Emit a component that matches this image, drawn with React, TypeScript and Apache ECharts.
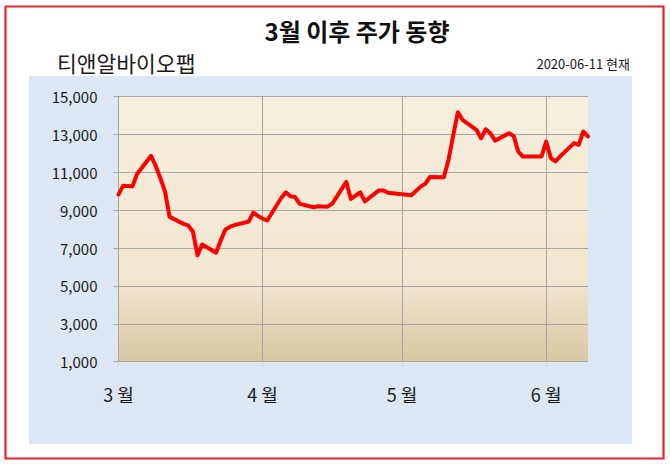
import * as React from "react";
import * as echarts from "echarts";

// trading days, 2020-03-02 .. 2020-06-11 (KOSDAQ, 티앤알바이오팹)
const tradeDates = [
  "2020-03-02", "2020-03-03", "2020-03-04", "2020-03-05", "2020-03-06",
  "2020-03-09", "2020-03-10", "2020-03-11", "2020-03-12", "2020-03-13",
  "2020-03-16", "2020-03-17", "2020-03-18", "2020-03-19", "2020-03-20",
  "2020-03-23", "2020-03-24", "2020-03-25", "2020-03-26", "2020-03-27",
  "2020-03-30", "2020-03-31", "2020-04-01", "2020-04-02", "2020-04-03",
  "2020-04-06", "2020-04-07", "2020-04-08", "2020-04-09", "2020-04-10",
  "2020-04-13", "2020-04-14", "2020-04-16", "2020-04-17",
  "2020-04-20", "2020-04-21", "2020-04-22", "2020-04-23", "2020-04-24",
  "2020-04-27", "2020-04-28", "2020-04-29",
  "2020-05-04", "2020-05-06", "2020-05-07", "2020-05-08",
  "2020-05-11", "2020-05-12", "2020-05-13", "2020-05-14", "2020-05-15",
  "2020-05-18", "2020-05-19", "2020-05-20", "2020-05-21", "2020-05-22",
  "2020-05-25", "2020-05-26", "2020-05-27", "2020-05-28", "2020-05-29",
  "2020-06-01", "2020-06-02", "2020-06-03", "2020-06-04", "2020-06-05",
  "2020-06-08", "2020-06-09", "2020-06-10", "2020-06-11",
];

const closePrices = [
  9830, 10300, 10280, 10260, 10920,
  11880, 11350, 10700, 10000, 8650,
  8280, 8200, 7880, 6620, 7190,
  6760, 7400, 7990, 8130, 8220,
  8400, 8880, 8700, 8560, 8460,
  9650, 9950, 9740, 9700, 9340,
  9160, 9210, 9190, 9350,
  10500, 9600, 9770, 9950, 9470,
  10050, 10050, 9920,
  9790, 10250, 10400, 10760,
  10740, 11670, 12950, 14180, 13780,
  13250, 12800, 13280, 13070, 12680,
  13070, 12930, 12100, 11840, 11840,
  11840, 12630, 11760, 11580, 11850,
  12550, 12460, 13160, 12900,
];

const yTicks = [1000, 3000, 5000, 7000, 9000, 11000, 13000, 15000];
const monthTickDays = [1, 32, 62, 93]; // days after 2020-03-01
const monthLabels = ["3 월", "4 월", "5 월", "6 월"];

const titleText = "3월 이후 주가 동향";
const stockName = "티앤알바이오팹";
const asOfText = "2020-06-11 현재";

const FONT = "'Noto Sans CJK KR', 'Noto Sans', sans-serif";
const BASE = Date.parse("2020-03-01");
const dayOffset = (d: string) => Math.round((Date.parse(d) - BASE) / 86400000);

export default function App() {
  const ref = React.useRef<HTMLDivElement | null>(null);

  React.useEffect(() => {
    if (!ref.current) return;
    const chart = echarts.init(ref.current, null, { renderer: "svg" });

    const option: echarts.EChartsOption = {
      animation: false,
      backgroundColor: "#ffffff",
      graphic: [
        {
          type: "rect",
          z: -10,
          shape: { x: 5.5, y: 6.5, width: 658, height: 452 },
          style: { fill: "#ffffff", stroke: "#e3262b", lineWidth: 2.2 },
        },
        {
          type: "rect",
          z: -9,
          shape: { x: 29, y: 76, width: 603, height: 368 },
          style: { fill: "#dde7f3" },
        },
        {
          type: "text",
          x: 357,
          y: 30,
          style: {
            text: titleText,
            fontFamily: FONT,
            fontSize: 24,
            fontWeight: "bold",
            fill: "#111111",
            textAlign: "center",
            textVerticalAlign: "middle",
          },
        },
        {
          type: "text",
          x: 57,
          y: 62.5,
          style: {
            text: stockName,
            fontFamily: FONT,
            fontSize: 21.5,
            fill: "#1a1a1a",
            textAlign: "left",
            textVerticalAlign: "middle",
          },
        },
        {
          type: "text",
          x: 630,
          y: 63,
          style: {
            text: asOfText,
            fontFamily: FONT,
            fontSize: 13,
            fill: "#1a1a1a",
            textAlign: "right",
            textVerticalAlign: "middle",
          },
        },
      ],
      grid: {
        left: 118.5,
        right: 82,
        top: 96.7,
        bottom: 104.3,
        show: true,
        borderWidth: 0,
        backgroundColor: new echarts.graphic.LinearGradient(0, 0, 0, 1, [
          { offset: 0, color: "#f6efde" },
          { offset: 0.7, color: "#f1e6cf" },
          { offset: 1, color: "#d7c6a0" },
        ]),
      },
      xAxis: {
        type: "value",
        min: 1,
        max: 102,
        axisLine: { show: false },
        axisTick: {
          show: true,
          customValues: monthTickDays,
          length: 5,
          lineStyle: { color: "#e9d3ae" },
        },
        axisLabel: {
          customValues: monthTickDays,
          formatter: (v: number) => monthLabels[monthTickDays.indexOf(v)] ?? "",
          fontFamily: FONT,
          fontSize: 18,
          color: "#1a1a1a",
          margin: 23,
        },
        splitLine: { show: true, lineStyle: { color: "#a6a6a6", width: 1 } },
      },
      yAxis: {
        type: "value",
        min: 1000,
        max: 15000,
        axisLine: { show: true, lineStyle: { color: "#a6a6a6" } },
        axisTick: {
          show: true,
          customValues: yTicks,
          length: 5,
          lineStyle: { color: "#a6a6a6" },
        },
        axisLabel: {
          customValues: yTicks,
          formatter: (v: number) => v.toLocaleString("en-US"),
          fontFamily: FONT,
          fontSize: 15,
          color: "#1a1a1a",
          margin: 21,
        },
        splitLine: { show: true, lineStyle: { color: "#a6a6a6", width: 1 } },
      },
      series: [
        {
          type: "line",
          showSymbol: false,
          data: tradeDates.map((d, i) => [dayOffset(d), closePrices[i]]),
          lineStyle: { color: "#ff0000", width: 4, join: "round", cap: "round" },
          z: 5,
        },
      ],
    };

    chart.setOption(option);
    return () => chart.dispose();
  }, []);

  return (
    <div
      ref={ref}
      style={{ position: "absolute", left: 0, top: 0, width: 670, height: 466 }}
    />
  );
}
